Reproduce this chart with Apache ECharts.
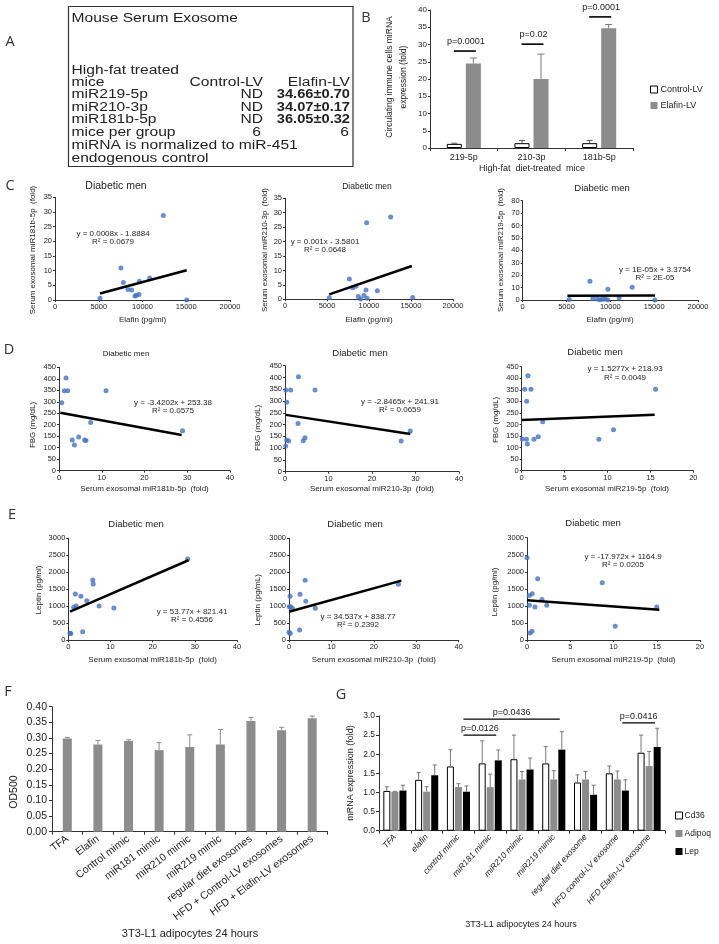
<!DOCTYPE html>
<html><head><meta charset="utf-8">
<script src="https://cdn.jsdelivr.net/npm/echarts@6/dist/echarts.min.js"></script>
<style>html,body{margin:0;padding:0;background:#fff}#c{width:719px;height:944px}</style>
</head><body><div id="c"></div>
<script>
// ---------------- DATA ----------------
// Panel A table
const tableTitle = 'Mouse Serum Exosome';
const tableRows = ['miR219-5p', 'miR210-3p', 'miR181b-5p'];
const tableControl = ['ND', 'ND', 'ND'];
const tableElafin = ['34.66±0.70', '34.07±0.17', '36.05±0.32'];
const miceControl = '6';
const miceElafin = '6';

// Panel B
const bCats = ['219-5p', '210-3p', '181b-5p'];
const bControl = [1.2, 1.4, 1.4];
const bControlErr = [0.2, 0.8, 0.8];
const bElafin = [24.5, 20.0, 34.7];
const bElafinErr = [1.6, 7.2, 1.1];
const bPLabels = ['p=0.0001', 'p=0.02', 'p=0.0001'];
const bPLevels = [28.1, 30.1, 38.0];

// Panel C: Elafin (pg/ml) vs serum exosomal miRNA (fold)
const c181Pts = [[12380,28.8],[7540,10.9],[7810,6.0],[9640,6.4],[10820,7.5],[8340,3.6],[8760,3.4],[9140,1.4],[9300,1.6],[9600,1.9],[5140,0.6],[15050,0]];
const c181Fit = [[5140,2.22],[15050,10.15]];
const c210Pts = [[12580,28.5],[9720,26.5],[7660,7.0],[8060,4.0],[8450,4.5],[9640,3.2],[10990,3.0],[8730,1.0],[9010,0.1],[9400,1.3],[9760,0.4],[5270,0.5],[15200,0.6]];
const c210Fit = [[5270,1.69],[15100,11.52]];
const c219Pts = [[5310,0.5],[7670,15.1],[9720,8.6],[12490,10.2],[11000,1.9],[15070,0],[8000,1.2],[8500,0.8],[8800,0.3],[9100,0.6],[9400,0.9],[9700,0.2]];
const c219Fit = [[5100,3.43],[15100,3.53]];

// Panel D: miRNA (fold) vs FBG (mg/dL)
const d181Pts = [[1.64,403],[1.24,348],[2.03,348],[0.63,296],[11.0,348],[7.4,210],[28.9,174],[3.1,134],[3.6,112],[4.6,147],[6.0,134],[6.3,131]];
const d181Fit = [[0.3,252.4],[28.7,155.2]];
const d210Pts = [[3.1,403],[0.2,347],[1.3,347],[6.9,347],[0.4,295],[3.0,205],[0.4,135],[0.85,130],[0.15,109],[4.2,131],[4.6,144],[26.7,130],[28.8,173]];
const d210Fit = [[0.2,241.3],[28.8,159.9]];
const d219Pts = [[0.73,411],[0.35,352],[1.08,352],[0.58,300],[2.45,212],[15.6,352],[10.7,177],[9.0,136],[0.07,137],[0.55,136],[1.43,136],[1.93,147],[0.65,116]];
const d219Fit = [[0,218.9],[15.5,242.6]];

// Panel E: miRNA (fold) vs Leptin (pg/ml)
const e181Pts = [[28.3,2391],[5.8,1774],[5.9,1656],[1.66,1362],[3.0,1294],[4.4,1165],[1.83,1009],[1.28,970],[7.3,1009],[10.8,950],[3.4,253],[0.4,206],[0.6,200]];
const e181Fit = [[0.4,843],[28.5,2354]];
const e210Pts = [[25.8,1647],[3.8,1765],[2.6,1353],[0.24,1294],[3.95,1147],[0.1,988],[0.4,988],[0.8,941],[6.2,941],[2.5,303],[0.0,235],[0.3,200]];
const e210Fit = [[0,838.8],[26.5,1754]];
const e219Pts = [[0,2412],[1.23,1794],[8.7,1676],[0.27,1303],[0.6,1353],[1.73,1185],[0.27,1018],[0.92,971],[2.28,1018],[15.0,971],[10.2,400],[0.35,206],[0.58,253]];
const e219Fit = [[0,1164.9],[15.3,889.9]];

const eqTexts = ['y = 0.0008x - 1.8884','y = 0.001x - 3.5801','y = 1E-05x + 3.3754',
                 'y = -3.4202x + 253.38','y = -2.8465x + 241.91','y = 1.5277x + 218.93',
                 'y = 53.77x + 821.41','y = 34.537x + 838.77','y = -17.972x + 1164.9'];
const r2Texts = ['R² = 0.0679','R² = 0.0648','R² = 2E-05',
                 'R² = 0.0575','R² = 0.0659','R² = 0.0049',
                 'R² = 0.4556','R² = 0.2392','R² = 0.0205'];

// Panel F
const fCats = ['TFA','Elafin','Control mimic','miR181 mimic','miR210 mimic','miR219 mimic','regular diet exosomes','HFD + Control-LV exosomes','HFD + Elafin-LV exosomes'];
const fOD = [0.298, 0.279, 0.290, 0.261, 0.271, 0.279, 0.354, 0.325, 0.363];
const fErr = [0.004, 0.013, 0.004, 0.024, 0.039, 0.048, 0.011, 0.009, 0.007];

// Panel G
const gCats = ['TFA','elafin','control mimic','miR181 mimic','miR210 mimic','miR219 mimic','regular diet exosome','HFD control-LV exosome','HFD Elafin-LV exosome'];
const gCd36 = [1.04, 1.33, 1.68, 1.76, 1.87, 1.76, 1.26, 1.50, 2.04];
const gCd36Err = [0.11, 0.19, 0.44, 0.59, 0.63, 0.44, 0.20, 0.19, 0.46];
const gAdipoq = [1.02, 1.02, 1.14, 1.14, 1.34, 1.34, 1.34, 1.34, 1.69];
const gAdipoqErr = [0.01, 0.13, 0.09, 0.34, 0.21, 0.23, 0.21, 0.22, 0.38];
const gLep = [1.05, 1.45, 1.02, 1.84, 1.60, 2.12, 0.94, 1.05, 2.19];
const gLepErr = [0.14, 0.27, 0.15, 0.27, 0.30, 0.47, 0.25, 0.28, 0.49];
const gSig = [[2, 3, 2.50], [2, 5, 2.92], [7, 8, 2.82]];
const gSigLabels = ['p=0.0126', 'p=0.0436', 'p=0.0416'];

// ---------------- LAYOUT / STYLE ----------------
const FONT = '"Liberation Sans", Arial, sans-serif';
const NARROW = '"Liberation Sans Narrow", "Arial Narrow", "Liberation Sans", sans-serif';
const LETTER = '"Open Sans", "Noto Sans", sans-serif';
const GRAY = '#8c8c8c';
const BLUE = '#4472C4';
const TXT = '#222';

const gridRects = [
  [430, 10, 203, 138],      // 0 B
  [55, 197.3, 175, 102.7],  // 1 C1
  [285, 198.3, 168, 101],   // 2 C2
  [522.7, 200.7, 175.3, 99.3], // 3 C3
  [59, 367.3, 171, 103.4],  // 4 D1
  [285, 365.7, 174, 106],   // 5 D2
  [521.7, 366.7, 171.6, 104], // 6 D3
  [68.3, 538.3, 168.7, 102], // 7 E1
  [289, 538.3, 169.7, 102], // 8 E2
  [527, 537.7, 173, 102.3], // 9 E3
  [52, 706.7, 275.5, 125],  // 10 F
  [379, 716, 286, 114.7]    // 11 G
];
const grid = gridRects.map(r => ({left: r[0], top: r[1], width: r[2], height: r[3], containLabel: false, outerBoundsMode: 'none'}));

function valAxis(gi, min, max, interval, fmt, size, font) {
  return {
    type: 'value', gridIndex: gi, min: min, max: max, interval: interval,
    axisLine: {show: true, onZero: false, lineStyle: {color: '#333', width: 1}},
    axisTick: {show: true, length: 2, lineStyle: {color: '#333'}},
    splitLine: {show: false},
    axisLabel: {fontSize: size || 7.5, fontFamily: font || FONT, color: TXT, margin: 3, formatter: fmt || (v => String(v))}
  };
}
function catAxis(gi, cats, label) {
  return {
    type: 'category', gridIndex: gi, data: cats,
    axisLine: {show: true, lineStyle: {color: '#333', width: 1}},
    axisTick: {show: true, length: 3, alignWithLabel: false, lineStyle: {color: '#333'}},
    splitLine: {show: false},
    axisLabel: Object.assign({interval: 0, color: TXT, fontFamily: FONT}, label)
  };
}

const xAxis = [], yAxis = [];
// B
xAxis[0] = catAxis(0, bCats, {fontSize: 9, margin: 5});
yAxis[0] = valAxis(0, 0, 40, 5, null, 8);
// C, D, E
const scatterPanels = [
  {gi: 1, pts: c181Pts, fit: c181Fit, x: [0, 20000, 5000], y: [0, 35, 5]},
  {gi: 2, pts: c210Pts, fit: c210Fit, x: [0, 20000, 5000], y: [0, 35, 5]},
  {gi: 3, pts: c219Pts, fit: c219Fit, x: [0, 20000, 5000], y: [0, 80, 10]},
  {gi: 4, pts: d181Pts, fit: d181Fit, x: [0, 40, 10], y: [0, 450, 50]},
  {gi: 5, pts: d210Pts, fit: d210Fit, x: [0, 40, 10], y: [0, 450, 50]},
  {gi: 6, pts: d219Pts, fit: d219Fit, x: [0, 20, 5], y: [0, 450, 50]},
  {gi: 7, pts: e181Pts, fit: e181Fit, x: [0, 40, 10], y: [0, 3000, 500]},
  {gi: 8, pts: e210Pts, fit: e210Fit, x: [0, 40, 10], y: [0, 3000, 500]},
  {gi: 9, pts: e219Pts, fit: e219Fit, x: [0, 20, 5], y: [0, 3000, 500]}
];
scatterPanels.forEach(p => {
  xAxis[p.gi] = valAxis(p.gi, p.x[0], p.x[1], p.x[2]);
  yAxis[p.gi] = valAxis(p.gi, p.y[0], p.y[1], p.y[2]);
});
// F
xAxis[10] = catAxis(10, fCats, {fontSize: 10.5, rotate: 37, margin: 6});
yAxis[10] = valAxis(10, 0, 0.4, 0.05, v => v.toFixed(2), 10.5);
yAxis[10].axisTick.length = 3; yAxis[10].axisLabel.margin = 5;
// G
xAxis[11] = catAxis(11, gCats, {fontSize: 8.5, rotate: 48, margin: 5, fontStyle: 'italic'});
yAxis[11] = valAxis(11, 0, 3, 0.5, v => v.toFixed(1), 8.5, NARROW);
yAxis[11].axisTick.length = 3; yAxis[11].axisLabel.margin = 4;

// error bars
function errSeries(gi, vals, errs, offset, color, cap) {
  return {
    type: 'custom', xAxisIndex: gi, yAxisIndex: gi, z: 5, silent: true,
    data: vals.map((v, i) => [i, v, v + errs[i]]),
    renderItem: function (params, api) {
      const a = api.coord([api.value(0), api.value(1)]);
      const b = api.coord([api.value(0), api.value(2)]);
      const x = a[0] + offset;
      return {type: 'group', children: [
        {type: 'line', shape: {x1: x, y1: a[1], x2: x, y2: b[1]}, style: {stroke: color, lineWidth: 1}},
        {type: 'line', shape: {x1: x - cap, y1: b[1], x2: x + cap, y2: b[1]}, style: {stroke: color, lineWidth: 1}}
      ]};
    }
  };
}

const series = [];
// B bars
series.push({type: 'bar', name: 'Control-LV', xAxisIndex: 0, yAxisIndex: 0, data: bControl, barWidth: 15, barGap: '27%',
  itemStyle: {color: '#fff', borderColor: '#000', borderWidth: 1}});
series.push({type: 'bar', name: 'Elafin-LV', xAxisIndex: 0, yAxisIndex: 0, data: bElafin, barWidth: 15, barGap: '27%',
  itemStyle: {color: GRAY}});
series.push(errSeries(0, bControl, bControlErr, -9.5, '#555', 3));
series.push(errSeries(0, bElafin, bElafinErr, 9.5, '#7a7a7a', 3.5));
series.push({
  type: 'custom', xAxisIndex: 0, yAxisIndex: 0, z: 6, silent: true,
  data: bPLevels.map((v, i) => [i, v]),
  renderItem: function (params, api) {
    const c = api.coord([api.value(0), api.value(1)]);
    return {type: 'group', children: [
      {type: 'line', shape: {x1: c[0] - 10, y1: c[1], x2: c[0] + 12, y2: c[1]}, style: {stroke: '#000', lineWidth: 1.6}},
      {type: 'text', style: {text: bPLabels[params.dataIndex], x: c[0] + 2, y: c[1] - 5, align: 'center', verticalAlign: 'bottom',
        fontSize: 9, fontFamily: FONT, fill: TXT}}
    ]};
  }
});
// scatter panels
scatterPanels.forEach(p => {
  series.push({type: 'scatter', xAxisIndex: p.gi, yAxisIndex: p.gi, data: p.pts, symbolSize: 5, z: 3,
    itemStyle: {color: BLUE}, silent: true});
  series.push({type: 'line', xAxisIndex: p.gi, yAxisIndex: p.gi, data: p.fit, symbol: 'none', z: 4, silent: true,
    lineStyle: {color: '#000', width: 2.5}});
});
// F
series.push({type: 'bar', name: 'OD500', xAxisIndex: 10, yAxisIndex: 10, data: fOD, barWidth: 9, itemStyle: {color: GRAY}});
series.push(errSeries(10, fOD, fErr, 0, '#8c8c8c', 2.5));
// G
const gW = 7, gGap = 1.05;
series.push({type: 'bar', name: 'Cd36', xAxisIndex: 11, yAxisIndex: 11, data: gCd36, barWidth: gW, barGap: '15%',
  itemStyle: {color: '#fff', borderColor: '#000', borderWidth: 1}});
series.push({type: 'bar', name: 'Adipoq', xAxisIndex: 11, yAxisIndex: 11, data: gAdipoq, barWidth: gW, barGap: '15%',
  itemStyle: {color: GRAY}});
series.push({type: 'bar', name: 'Lep', xAxisIndex: 11, yAxisIndex: 11, data: gLep, barWidth: gW, barGap: '15%',
  itemStyle: {color: '#000'}});
series.push(errSeries(11, gCd36, gCd36Err, -(gW + gGap), '#777', 2));
series.push(errSeries(11, gAdipoq, gAdipoqErr, 0, '#777', 2));
series.push(errSeries(11, gLep, gLepErr, (gW + gGap), '#777', 2));
series.push({
  type: 'custom', xAxisIndex: 11, yAxisIndex: 11, z: 6, silent: true,
  data: gSig,
  renderItem: function (params, api) {
    const a = api.coord([api.value(0), api.value(2)]);
    const b = api.coord([api.value(1), api.value(2)]);
    const x1 = a[0] + 5, x2 = b[0] + 6;
    return {type: 'group', children: [
      {type: 'line', shape: {x1: x1, y1: a[1], x2: x2, y2: a[1]}, style: {stroke: '#000', lineWidth: 1.3}},
      {type: 'text', style: {text: gSigLabels[params.dataIndex], x: (x1 + x2) / 2, y: a[1] - 2, align: 'center', verticalAlign: 'bottom',
        fontSize: 9, fontFamily: NARROW, fill: TXT}}
    ]};
  }
});

// ---------------- TEXT GRAPHICS ----------------
function T(x, y, text, size, o) {
  o = o || {};
  return {type: 'text', x: x, y: y, rotation: o.rot || 0, scaleX: o.sx || 1, silent: true, z: 10,
    style: {text: text, fontSize: size, fontFamily: o.font || FONT, fontWeight: o.bold ? 'bold' : 'normal',
      fontStyle: o.italic ? 'italic' : 'normal', fill: o.color || TXT, align: o.align || 'center', verticalAlign: 'middle'}};
}
const R = Math.PI / 2;
const g = [];
// panel letters
[['A', 10, 42], ['B', 366, 18], ['C', 10, 186], ['D', 9, 350], ['E', 12, 515], ['F', 8, 692], ['G', 341, 695]]
  .forEach(l => g.push(T(l[1], l[2], l[0], 14.5, {font: LETTER, color: '#333'})));
// table A
g.push({type: 'rect', shape: {x: 68.5, y: 6.5, width: 284.5, height: 160}, style: {fill: 'none', stroke: '#333', lineWidth: 1.2}, silent: true});
const SX = 1.3, TF = 12, LX = 71.5;
g.push(T(LX, 18.5, tableTitle, TF, {align: 'left', sx: SX}));
g.push(T(LX, 71, 'High-fat treated', TF, {align: 'left', sx: SX}));
g.push(T(LX, 83, 'mice', TF, {align: 'left', sx: SX}));
g.push(T(263, 83, 'Control-LV', TF, {align: 'right', sx: SX}));
g.push(T(350, 83, 'Elafin-LV', TF, {align: 'right', sx: SX}));
tableRows.forEach((r, i) => {
  const y = 95 + i * 12.3;
  g.push(T(LX, y, r, TF, {align: 'left', sx: SX}));
  g.push(T(263, y, tableControl[i], TF, {align: 'right', sx: SX}));
  g.push(T(350, y, tableElafin[i], TF, {align: 'right', sx: 1.22, bold: true}));
});
g.push(T(LX, 132.5, 'mice per group', TF, {align: 'left', sx: SX}));
g.push(T(261, 132.5, miceControl, TF, {align: 'right', sx: SX}));
g.push(T(349, 132.5, miceElafin, TF, {align: 'right', sx: SX}));
g.push(T(LX, 146, 'miRNA is normalized to miR-451', TF, {align: 'left', sx: SX}));
g.push(T(LX, 159, 'endogenous control', TF, {align: 'left', sx: SX}));
// B titles
g.push(T(390, 77, 'Circulating immune cells miRNA', 8.5, {rot: R}));
g.push(T(403.5, 77, 'expression (fold)', 8.5, {rot: R}));
g.push(T(532, 169, 'High-fat  diet-treated  mice', 9));
// scatter titles
[[116, 186, 10.5], [367, 187, 8.5], [602, 188, 9.5], [126, 354, 8], [360, 353, 9.5], [595, 352, 9.5], [136, 524, 9.5], [355, 524, 9.5], [593, 523, 9.5]]
  .forEach(t => g.push(T(t[0], t[1], 'Diabetic men', t[2])));
// regression equations
const eqPos = [[113, 234, 242], [325, 242, 250], [655, 270, 278], [173, 403, 411], [400, 402, 410], [625, 369, 378], [192, 612, 620], [358, 617, 625], [623, 557, 565]];
eqPos.forEach((p, i) => {
  g.push(T(p[0], p[1], eqTexts[i], 8));
  g.push(T(p[0], p[2], r2Texts[i], 8));
});
// scatter axis titles
[142.5, 369, 610].forEach(x => g.push(T(x, 320, 'Elafin (pg/ml)', 8)));
const mirNames = ['Serum exosomal miR181b-5p  (fold)', 'Serum exosomal miR210-3p  (fold)', 'Serum exosomal miR219-5p  (fold)'];
[[33, 250], [265, 250], [501, 250]].forEach((p, i) => g.push(T(p[0], p[1], mirNames[i], 8, {rot: R})));
[144.5, 372, 607].forEach((x, i) => g.push(T(x, 489, mirNames[i], 8)));
[152.6, 373.8, 613.5].forEach((x, i) => g.push(T(x, 660, mirNames[i], 8)));
[[33, 425], [258, 428], [496, 420]].forEach(p => g.push(T(p[0], p[1], 'FBG (mg/dL)', 8, {rot: R})));
[[39, 590, 'Leptin (pg/ml)'], [258, 600, 'Leptin (pg/mL)'], [495, 592, 'Leptin (pg/ml)']].forEach(p => g.push(T(p[0], p[1], p[2], 8, {rot: R})));
// F & G titles
g.push(T(14, 792, 'OD500', 10.5, {rot: R}));
g.push(T(190, 934, '3T3-L1 adipocytes 24 hours', 11));
g.push(T(351, 773, 'mRNA expression (fold)', 9, {rot: R}));
g.push(T(521, 925, '3T3-L1 adipocytes 24 hours', 9, {font: NARROW}));

const option = {
  animation: false,
  backgroundColor: '#fff',
  grid: grid,
  xAxis: xAxis,
  yAxis: yAxis,
  legend: [
    {left: 645, top: 80, orient: 'vertical', itemWidth: 7, itemHeight: 7, itemGap: 7, icon: 'rect',
      textStyle: {fontSize: 9, fontFamily: FONT, color: TXT, padding: [0, 0, 0, -2]},
      data: [{name: 'Control-LV', itemStyle: {color: '#fff', borderColor: '#000', borderWidth: 1}}, {name: 'Elafin-LV'}]},
    {left: 670, top: 806, orient: 'vertical', itemWidth: 7, itemHeight: 7, itemGap: 9, icon: 'rect',
      textStyle: {fontSize: 8.5, fontFamily: NARROW, color: TXT, padding: [0, 0, 0, -3]},
      data: [{name: 'Cd36', itemStyle: {color: '#fff', borderColor: '#000', borderWidth: 1}}, {name: 'Adipoq'}, {name: 'Lep'}]}
  ],
  graphic: {elements: g},
  series: series
};
const chart = echarts.init(document.getElementById('c'), null, {renderer: 'canvas', width: 719, height: 944});
chart.setOption(option);
</script></body></html>
